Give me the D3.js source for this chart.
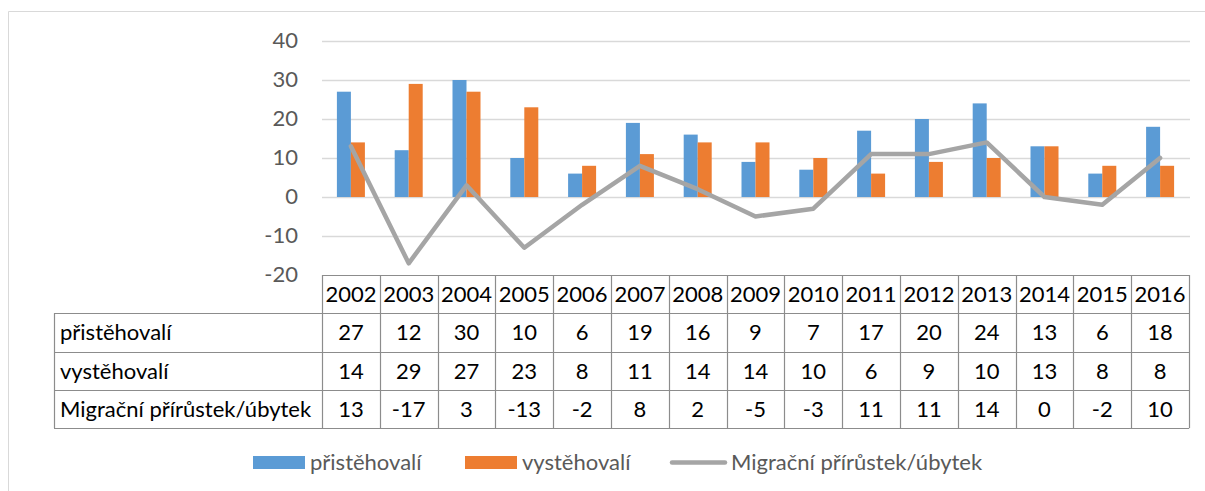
<!DOCTYPE html>
<html>
<head>
<meta charset="utf-8">
<script src="https://cdn.jsdelivr.net/npm/d3@7"></script>
<style>
  body { margin: 0; background: #fff; }
  svg { font-family: Lato, "Open Sans", sans-serif; }
</style>
</head>
<body>
<div id="viz"></div>
<script>
// data
var years = ['2002', '2003', '2004', '2005', '2006', '2007', '2008', '2009', '2010', '2011', '2012', '2013', '2014', '2015', '2016'];
var prist = [27, 12, 30, 10, 6, 19, 16, 9, 7, 17, 20, 24, 13, 6, 18];
var vyst = [14, 29, 27, 23, 8, 11, 14, 14, 10, 6, 9, 10, 13, 8, 8];
var migr = [13, -17, 3, -13, -2, 8, 2, -5, -3, 11, 11, 14, 0, -2, 10];
var yTicks = [-20, -10, 0, 10, 20, 30, 40];
var seriesNames = ['přistěhovalí', 'vystěhovalí', 'Migrační přírůstek/úbytek'];

var colors = ['#5b9bd5', '#ed7d31', '#a5a5a5'];

var width = 1205, height = 491;
var plot = { left: 322, right: 1189, top: 41, bottom: 275 };
var rowH = 38.3;
var labelLeft = 54;
var fs = 22;

var svg = d3.select('#viz').append('svg')
    .attr('width', width).attr('height', height);

// chart frame
svg.append('path')
    .attr('d', 'M8.5,' + height + 'V11.5H' + width)
    .attr('fill', 'none').attr('stroke', '#d9d9d9');

var x = d3.scaleBand().domain(years).range([plot.left, plot.right]).padding(0);
var y = d3.scaleLinear().domain([-20, 40]).range([plot.bottom, plot.top]);
var barW = 14;

// gridlines
svg.append('g').selectAll('line').data(yTicks.filter(d => d > -20)).join('line')
    .attr('x1', plot.left).attr('x2', plot.right + 1)
    .attr('y1', d => Math.round(y(d)) + 0.5).attr('y2', d => Math.round(y(d)) + 0.5)
    .attr('stroke', '#d9d9d9').attr('stroke-width', 1.3);

// y labels
svg.append('g').selectAll('text').data(yTicks).join('text')
    .attr('x', 298).attr('y', d => y(d) + 7)
    .attr('text-anchor', 'end')
    .attr('fill', '#595959').attr('font-size', fs)
    .text(d => d);

// bars
var bars = svg.append('g');
bars.selectAll('.b1').data(prist).join('rect')
    .attr('x', (d, i) => x(years[i]) + x.bandwidth() / 2 - barW)
    .attr('width', barW)
    .attr('y', d => y(d)).attr('height', d => y(0) - y(d))
    .attr('fill', colors[0]);
bars.selectAll('.b2').data(vyst).join('rect')
    .attr('x', (d, i) => x(years[i]) + x.bandwidth() / 2)
    .attr('width', barW)
    .attr('y', d => y(d)).attr('height', d => y(0) - y(d))
    .attr('fill', colors[1]);

// line
var line = d3.line()
    .x((d, i) => x(years[i]) + x.bandwidth() / 2)
    .y(d => y(d));
svg.append('path').datum(migr)
    .attr('d', line)
    .attr('fill', 'none').attr('stroke', colors[2])
    .attr('stroke-width', 4.5).attr('stroke-linejoin', 'round').attr('stroke-linecap', 'round');

// data table
var table = svg.append('g');
var tStroke = '#8c8c8c';
var rows = [prist, vyst, migr];
var tableTop = plot.bottom;
var hLines = [0, 1, 2, 3, 4].map(i => tableTop + i * rowH);

// horizontal lines
hLines.forEach(function(yy, i) {
    table.append('line')
        .attr('x1', i === 0 ? plot.left : labelLeft).attr('x2', plot.right)
        .attr('y1', Math.round(yy) + 0.5).attr('y2', Math.round(yy) + 0.5)
        .attr('stroke', tStroke).attr('stroke-width', 1.2);
});
// vertical lines
var xs = years.map(d => x(d)).concat([plot.right]);
table.selectAll('.v').data(xs).join('line')
    .attr('x1', d => Math.round(d) + 0.5).attr('x2', d => Math.round(d) + 0.5)
    .attr('y1', tableTop).attr('y2', tableTop + 4 * rowH)
    .attr('stroke', tStroke).attr('stroke-width', 1.2);
table.append('line')
    .attr('x1', labelLeft + 0.5).attr('x2', labelLeft + 0.5)
    .attr('y1', tableTop + rowH).attr('y2', tableTop + 4 * rowH)
    .attr('stroke', tStroke).attr('stroke-width', 1.2);

// header
table.selectAll('.yr').data(years).join('text')
    .attr('x', d => x(d) + x.bandwidth() / 2).attr('y', tableTop + rowH / 2 + 8)
    .attr('text-anchor', 'middle').attr('font-size', fs).attr('fill', '#000')
    .text(d => d);

rows.forEach(function(vals, r) {
    var cy = tableTop + (r + 1.5) * rowH + 8;
    table.append('text')
        .attr('x', labelLeft + 6).attr('y', cy)
        .attr('font-size', fs).attr('fill', '#000')
        .text(seriesNames[r]);
    table.selectAll('.r' + r).data(vals).join('text')
        .attr('x', (d, i) => x(years[i]) + x.bandwidth() / 2).attr('y', cy)
        .attr('text-anchor', 'middle').attr('font-size', fs).attr('fill', '#000')
        .text(d => d);
});

// legend
var legend = svg.append('g').attr('transform', 'translate(0,462.5)');
var legX = [253, 465, 670];
seriesNames.forEach(function(name, i) {
    var g = legend.append('g').attr('transform', 'translate(' + legX[i] + ',0)');
    var tx = 57;
    if (i < 2) {
        g.append('rect').attr('x', 0).attr('y', -6.5).attr('width', 52).attr('height', 13)
            .attr('fill', colors[i]);
    } else {
        g.append('line').attr('x1', 2).attr('x2', 55).attr('y1', 0).attr('y2', 0)
            .attr('stroke', colors[i]).attr('stroke-width', 4.5).attr('stroke-linecap', 'round');
        tx = 61;
    }
    g.append('text').attr('x', tx).attr('y', 7.5)
        .attr('font-size', fs).attr('fill', '#595959')
        .text(name);
});
</script>
</body>
</html>
